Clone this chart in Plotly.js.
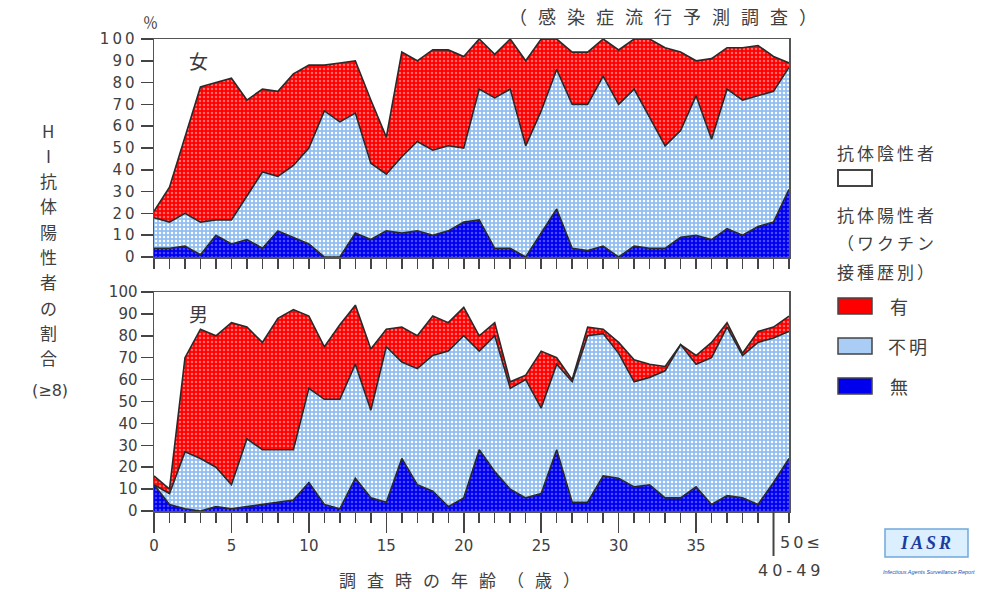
<!DOCTYPE html>
<html><head><meta charset="utf-8">
<script src="https://cdn.plot.ly/plotly-3.0.1.min.js"></script>
<style>
html,body{margin:0;padding:0;background:#fff;}
#chart{width:993px;height:592px;}
.ytick text{letter-spacing:3px;}
.xtick text{letter-spacing:2px;}
</style></head><body><div id="chart"></div>
<script>
// age positions: 0..39 single years, 40 = "40-49", 41 = "50≤"
const ages = [0,1,2,3,4,5,6,7,8,9,10,11,12,13,14,15,16,17,18,19,20,21,22,23,24,25,26,27,28,29,30,31,32,33,34,35,36,37,38,39,40,41];
const xTickVals = [0,5,10,15,20,25,30,35];
const xTickText = ['0','5','10','15','20','25','30','35'];

// 女 (female) — share of HI antibody positives (%) by vaccination history
const femaleNone    = [4,4,5,1,10,6,8,4,12,9,6,0,0,11,8,12,11,12,10,12,16,17,4,4,0,11,22,4,3,5,0,5,4,4,9,10,8,13,10,14,16,31];
const femaleUnknown = [14,12,15,15,7,11,20,35,25,33,44,67,62,55,35,26,35,41,39,39,34,60,69,73,51,56,64,66,67,78,70,72,60,47,49,64,46,64,62,60,60,56];
const femaleYes     = [3,16,35,62,63,65,44,38,39,42,38,21,27,24,29,17,48,37,46,44,42,23,20,23,39,33,14,24,24,17,25,23,36,45,36,16,37,19,24,23,16,2];

// 男 (male)
const maleNone    = [12,3,1,0,2,1,2,3,4,5,13,3,1,15,6,4,24,12,9,2,6,28,18,10,6,8,28,4,4,16,15,11,12,6,6,11,3,7,6,3,13,24];
const maleUnknown = [0,5,26,24,18,11,31,25,24,23,43,48,50,52,40,71,44,53,62,71,74,45,62,46,54,39,39,55,76,65,57,48,49,58,70,56,67,77,65,74,66,58];
const maleYes     = [4,2,43,59,60,74,51,49,60,64,33,24,34,27,28,8,16,15,18,13,13,7,6,3,2,26,3,1,4,2,5,10,6,2,0,4,7,2,1,5,5,7];

const yTitleChars = ['H','I','抗','体','陽','性','者','の','割','合'];

// pixel helpers (plot area: x 154..789, y 39..511)
const L = 154, R = 789, T = 39, B = 511;
const px = X => (X - L) / (R - L);
const py = Y => (B - Y) / (B - T);

const RED = '#ff0000', LBLUE = '#92bff2', DBLUE = '#0000ee';
const styles = {
  none:    {bg: DBLUE, fg: '#4a4aff', name: '無'},
  unknown: {bg: LBLUE, fg: '#ffffff', name: '不明'},
  yes:     {bg: RED,   fg: '#ff6a6a', name: '有'}
};
function tr(y, key, xa, ya, grp) {
  const s = styles[key];
  return {
    x: ages, y: y, type: 'scatter', mode: 'lines', stackgroup: grp,
    xaxis: xa, yaxis: ya, name: s.name, showlegend: false,
    line: {color: '#2a2a2a', width: 1.6},
    fillcolor: s.bg,
    fillpattern: {shape: '.', bgcolor: s.bg, fgcolor: s.fg, size: 4, solidity: 0.3, fillmode: 'replace'},
    hoverinfo: 'x+y+name'
  };
}
const data = [
  tr(femaleNone, 'none', 'x', 'y', 'f'),
  tr(femaleUnknown, 'unknown', 'x', 'y', 'f'),
  tr(femaleYes, 'yes', 'x', 'y', 'f'),
  tr(maleNone, 'none', 'x2', 'y2', 'm'),
  tr(maleUnknown, 'unknown', 'x2', 'y2', 'm'),
  tr(maleYes, 'yes', 'x2', 'y2', 'm')
];

const TXT = '#404040';
const NUMFONT = {family: 'DejaVu Sans', size: 15, color: TXT};
const CJK = 'Noto Sans CJK JP';
const minorX = {tickmode: 'linear', tick0: 0, dtick: 1, ticklen: 10, ticks: 'outside', tickcolor: '#444', tickwidth: 1.5, showgrid: false};
const yAx = dom => ({
  domain: dom, range: [0, 100], dtick: 10, tick0: 0, ticks: 'outside', ticklen: 12,
  tickcolor: '#444', tickwidth: 1.5, tickfont: NUMFONT, showline: true, linecolor: '#555',
  linewidth: 1.5, mirror: true, showgrid: false, zeroline: false, fixedrange: true
});

const ann = [];
function A(text, X, Y, size, opts) {
  ann.push(Object.assign({
    text: text, x: px(X), y: py(Y), xref: 'paper', yref: 'paper', showarrow: false,
    xanchor: 'center', yanchor: 'middle',
    font: {family: CJK, size: size, color: TXT}
  }, opts || {}));
}
A('<span style="letter-spacing:11px">（感染症流行予測調査）</span>', 668, 16, 18);
A('％', 150, 22, 15);
A('女', 198, 60, 19, {font: {family: CJK, size: 19, color: '#3a3a3a'}});
A('男', 198, 313, 19, {font: {family: CJK, size: 19, color: '#3a3a3a'}});
yTitleChars.forEach((c, i) => A(c, 48, 130 + i * 25.3, 17));
A('(≥8)', 50, 390, 16, {font: {family: 'DejaVu Sans', size: 16, color: TXT}});
// legend texts
const lg = {xanchor: 'left'};
A('<span style="letter-spacing:3px">抗体陰性者</span>', 835, 152, 17, lg);
A('<span style="letter-spacing:3px">抗体陽性者</span>', 835, 214, 17, lg);
A('<span style="letter-spacing:3px">（ワクチン</span>', 835, 243, 17, lg);
A('<span style="letter-spacing:3px">接種歴別）</span>', 835, 271, 17, lg);
A('有', 888, 306, 18, lg);
A('<span style="letter-spacing:3px">不明</span>', 886, 346, 18, lg);
A('無', 888, 386, 18, lg);
// age-group labels
A('<span style="letter-spacing:3px">50≤</span>', 778, 542, 16, {xanchor: 'left', font: {family: 'DejaVu Sans', size: 16, color: TXT}});
A('<span style="letter-spacing:4px">40-49</span>', 791, 570, 16, {font: {family: 'DejaVu Sans', size: 16, color: TXT}});
// x title
A('<span style="letter-spacing:11px">調査時の年齢（歳）</span>', 465, 579, 17);
// IASR logo
A('<b><i><span style="letter-spacing:3px">IASR</span></i></b>', 927, 543, 18, {font: {family: 'Liberation Serif', size: 18, color: '#1c3ca0'}});
A('<i>Infectious Agents Surveillance Report</i>', 929, 572, 5.5, {font: {family: 'Liberation Sans', size: 5.5, color: '#2050b0'}});

const shapes = [
  // long tick for 40-49
  {type: 'line', xref: 'x2', yref: 'paper', x0: 40, x1: 40, y0: 0, y1: py(556), line: {color: '#444', width: 2}},
  // legend boxes
  {type: 'rect', xref: 'paper', yref: 'paper', x0: px(838), x1: px(872), y0: py(186), y1: py(170), fillcolor: '#ffffff', line: {color: '#444', width: 2}},
  {type: 'rect', xref: 'paper', yref: 'paper', x0: px(838), x1: px(872), y0: py(314), y1: py(298), fillcolor: RED, line: {color: '#444', width: 1.5}},
  {type: 'rect', xref: 'paper', yref: 'paper', x0: px(838), x1: px(872), y0: py(354), y1: py(338), fillcolor: '#a9cdf5', line: {color: '#444', width: 1.5}},
  {type: 'rect', xref: 'paper', yref: 'paper', x0: px(838), x1: px(872), y0: py(394), y1: py(378), fillcolor: DBLUE, line: {color: '#444', width: 1.5}},
  // IASR box
  {type: 'rect', xref: 'paper', yref: 'paper', x0: px(885), x1: px(968), y0: py(557), y1: py(529), fillcolor: '#dcefff', line: {color: '#6fa8dc', width: 1.5}}
];

const layout = {
  width: 993, height: 592,
  margin: {l: L, r: 993 - R, t: T, b: 592 - B, pad: 0},
  paper_bgcolor: '#ffffff', plot_bgcolor: '#ffffff',
  showlegend: false,
  xaxis: {
    domain: [0, 1], anchor: 'y', range: [0, 41], tickmode: 'array', tickvals: [0], ticktext: [''],
    ticks: 'outside', ticklen: 18, tickcolor: '#444', tickwidth: 1.5, showticklabels: false,
    minor: minorX, showline: true, linecolor: '#555', linewidth: 1.5, mirror: true,
    showgrid: false, zeroline: false, fixedrange: true
  },
  yaxis: yAx([py(257), 1]),
  xaxis2: {
    domain: [0, 1], anchor: 'y2', range: [0, 41], tickmode: 'array', tickvals: xTickVals, ticktext: xTickText,
    ticks: 'outside', ticklen: 20, tickcolor: '#444', tickwidth: 1.5, tickfont: NUMFONT,
    minor: minorX, showline: true, linecolor: '#555', linewidth: 1.5, mirror: true,
    showgrid: false, zeroline: false, fixedrange: true
  },
  yaxis2: yAx([0, py(292)]),
  annotations: ann,
  shapes: shapes
};
Plotly.newPlot('chart', data, layout, {staticPlot: true, displayModeBar: false});
</script></body></html>
